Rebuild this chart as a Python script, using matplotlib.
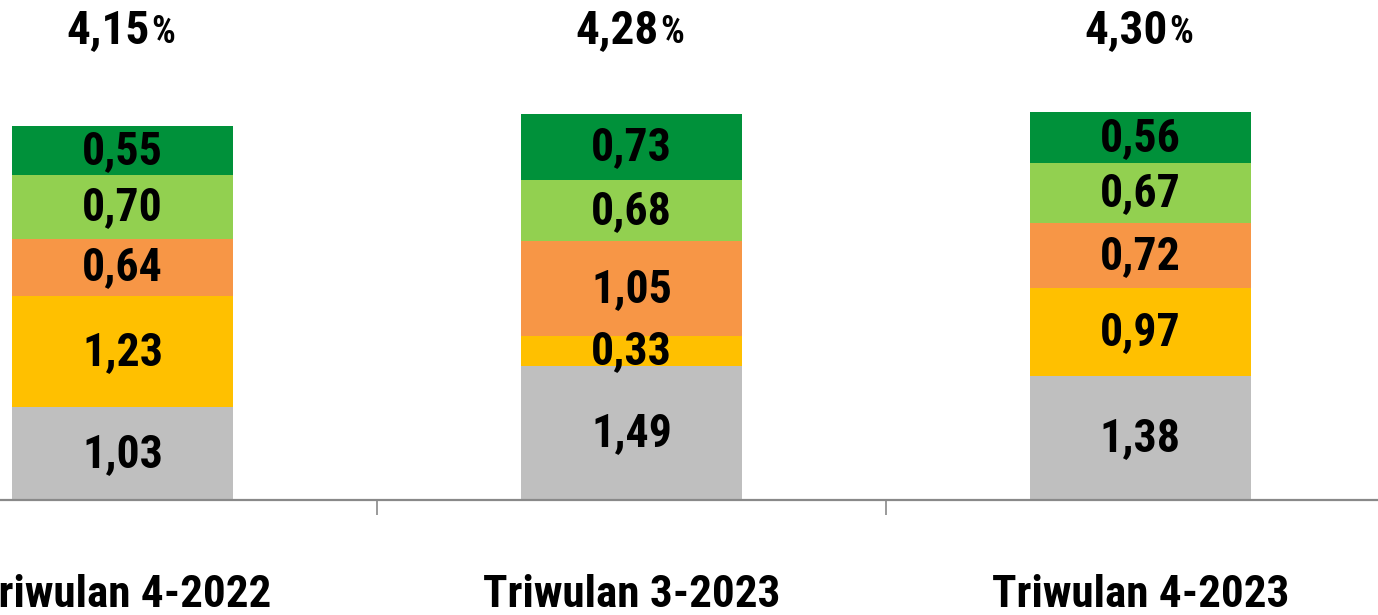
import matplotlib.pyplot as plt
import numpy as np

categories = ['Triwulan 4-2022', 'Triwulan 3-2023', 'Triwulan 4-2023']
seg1 = [1.03, 1.49, 1.38]   # abu-abu
seg2 = [1.23, 0.33, 0.97]   # kuning
seg3 = [0.64, 1.05, 0.72]   # oranye
seg4 = [0.70, 0.68, 0.67]   # hijau muda
seg5 = [0.55, 0.73, 0.56]   # hijau tua
totals = ['4,15', '4,28', '4,30']

colors = ['#BFBFBF', '#FFC000', '#F79646', '#92D050', '#00913A']
fam = ['Roboto Condensed', 'Liberation Sans', 'DejaVu Sans']

fig = plt.figure(figsize=(13.78, 6.15), dpi=100)
ax = fig.add_axes([0, 0.187, 1, 0.813])

x = np.arange(len(categories))
bottom = np.zeros(len(categories))
for vals, c in zip([seg1, seg2, seg3, seg4, seg5], colors):
    vals = np.array(vals)
    ax.bar(x, vals, width=0.434, bottom=bottom, color=c, edgecolor='none', zorder=2)
    for xi, b, v in zip(x, bottom, vals):
        ax.text(xi, b + v / 2, format(v, '.2f').replace('.', ','), ha='center', va='center',
                fontsize=33, fontweight='bold', family=fam, zorder=3)
    bottom = bottom + vals

# total di atas batang
for xi, t in zip(x, totals):
    ax.annotate(t, (xi, 5.07), xytext=(27, 0), textcoords='offset pixels', ha='right',
                va='baseline', fontsize=34, fontweight='bold', family=fam)
    ax.annotate('%', (xi, 5.07), xytext=(29, 0), textcoords='offset pixels', ha='left',
                va='baseline', fontsize=27, fontweight='bold', family=fam)

# label kategori
for xi, cat in zip(x, categories):
    ax.text(xi, -1.19, cat, ha='center', va='baseline', fontsize=32.5, fontweight='bold',
            family=fam, clip_on=False)

ax.set_xlim(-0.241, 2.467)
ax.set_ylim(0, 5.546)
for s in ['top', 'right', 'left']:
    ax.spines[s].set_visible(False)
ax.spines['bottom'].set_color('#898989')
ax.spines['bottom'].set_linewidth(1.6)
ax.set_yticks([])

ax.set_xticks([0.5, 1.5])
ax.set_xticklabels([])
ax.tick_params(axis='x', which='major', length=11, width=1.2, color='#898989', direction='out')

fig.savefig('out.png', dpi=100)
